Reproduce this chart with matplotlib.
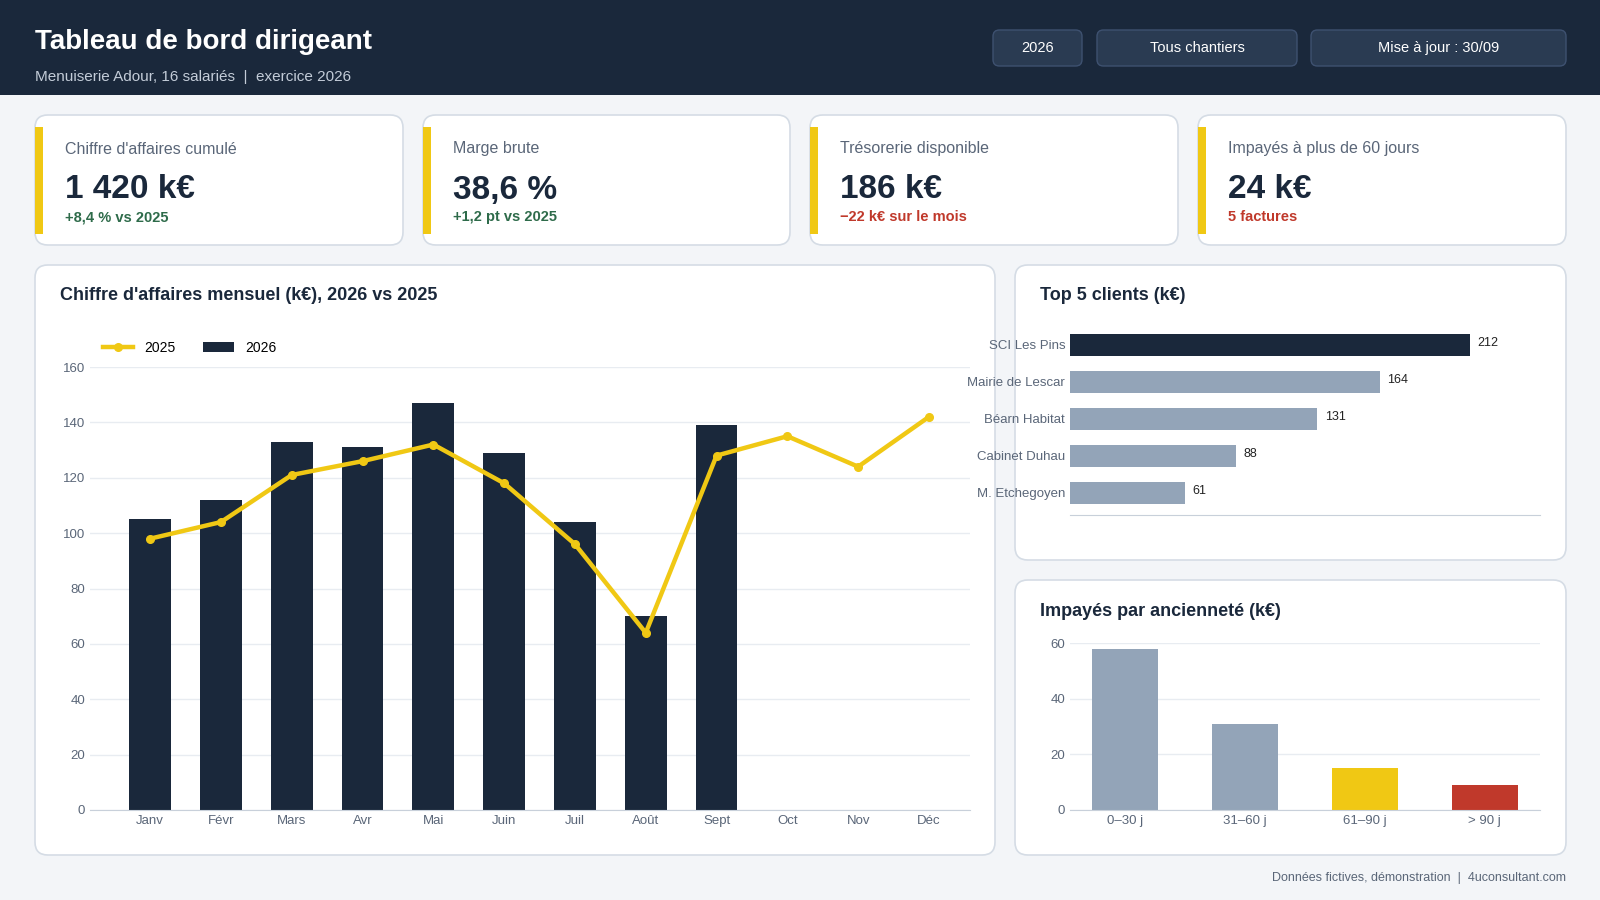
import matplotlib
matplotlib.use("Agg")
import matplotlib.pyplot as plt
from matplotlib.patches import FancyBboxPatch, Rectangle
import numpy as np

plt.rcParams['font.family'] = ['Liberation Sans', 'DejaVu Sans']

months = ["Janv", "Févr", "Mars", "Avr", "Mai", "Juin", "Juil", "Août", "Sept", "Oct", "Nov", "Déc"]
ca_2026 = [105, 112, 133, 131, 147, 129, 104, 70, 139]
ca_2025 = [98, 104, 121, 126, 132, 118, 96, 64, 128, 135, 124, 142]
clients = ["SCI Les Pins", "Mairie de Lescar", "Béarn Habitat", "Cabinet Duhau", "M. Etchegoyen"]
client_vals = [212, 164, 131, 88, 61]
aging_labels = ["0–30 j", "31–60 j", "61–90 j", "> 90 j"]
aging_vals = [58, 31, 15, 9]
kpi_titles = ["Chiffre d'affaires cumulé", "Marge brute", "Trésorerie disponible", "Impayés à plus de 60 jours"]
kpi_values = ["1 420 k€", "38,6 %", "186 k€", "24 k€"]
kpi_notes = ["+8,4 % vs 2025", "+1,2 pt vs 2025", "−22 k€ sur le mois", "5 factures"]
kpi_note_colors = ["#2e6b4a", "#2e6b4a", "#c0392b", "#c0392b"]

NAVY = "#1a283b"; YEL = "#f0c814"; GREY = "#93a4b8"; RED = "#c0392b"
W, H = 1600, 900
fig = plt.figure(figsize=(16, 9), dpi=100)
fig.patch.set_facecolor("#f3f5f8")

def fx(x): return x / W
def fy(y): return 1 - y / H

def rect_px(x0, y0, x1, y1, **kw):
    fig.patches.append(Rectangle((fx(x0), fy(y1)), fx(x1 - x0), (y1 - y0) / H, transform=fig.transFigure, **kw))

def card(x0, y0, x1, y1):
    fig.patches.append(FancyBboxPatch((fx(x0), fy(y1)), fx(x1 - x0), (y1 - y0) / H,
        boxstyle="round,pad=0,rounding_size=0.008", transform=fig.transFigure,
        facecolor="white", edgecolor="#d5dce5", linewidth=1.2, mutation_aspect=16/9))

def ax_px(x0, y0, x1, y1):
    a = fig.add_axes([fx(x0), fy(y1), fx(x1 - x0), (y1 - y0) / H])
    a.set_zorder(5)
    return a

# header
rect_px(0, 0, W, 95, facecolor=NAVY, edgecolor="none")
fig.text(fx(35), fy(42), "Tableau de bord dirigeant", color="white", fontsize=20, fontweight="bold", va="center")
fig.text(fx(35), fy(77), "Menuiserie Adour, 16 salariés  |  exercice 2026", color="#c3ccd8", fontsize=11, va="center")
for (x0, x1, t) in [(993, 1082, "2026"), (1097, 1297, "Tous chantiers"), (1311, 1566, "Mise à jour : 30/09")]:
    fig.patches.append(FancyBboxPatch((fx(x0), fy(66)), fx(x1 - x0), 36 / H,
        boxstyle="round,pad=0,rounding_size=0.004", transform=fig.transFigure,
        facecolor="#2a3b52", edgecolor="#3e5170", linewidth=1, mutation_aspect=16/9))
    fig.text(fx((x0 + x1) / 2), fy(48), t, color="white", fontsize=10.5, ha="center", va="center")

# KPI cards
kx = [(35, 403), (423, 790), (810, 1178), (1198, 1566)]
for i, (x0, x1) in enumerate(kx):
    card(x0, 115, x1, 245)
    rect_px(x0, 127, x0 + 8, 234, facecolor=YEL, edgecolor="none")
    fig.text(fx(x0 + 30), fy(149), kpi_titles[i], color="#5a6678", fontsize=11.5, va="center")
    fig.text(fx(x0 + 30), fy(190), kpi_values[i], color=NAVY, fontsize=24, fontweight="bold", va="center")
    fig.text(fx(x0 + 30), fy(217), kpi_notes[i], color=kpi_note_colors[i], fontsize=10.5, fontweight="bold", va="center")

# panels
card(35, 265, 995, 855)
card(1015, 265, 1566, 560)
card(1015, 580, 1566, 855)
fig.text(fx(60), fy(296), "Chiffre d'affaires mensuel (k€), 2026 vs 2025", color=NAVY, fontsize=13, fontweight="bold", va="center")
fig.text(fx(1040), fy(296), "Top 5 clients (k€)", color=NAVY, fontsize=13, fontweight="bold", va="center")
fig.text(fx(1040), fy(611), "Impayés par ancienneté (k€)", color=NAVY, fontsize=13, fontweight="bold", va="center")
fig.text(fx(1566), fy(878), "Données fictives, démonstration  |  4uconsultant.com", color="#5a6678", fontsize=9, ha="right", va="center")

def style(ax):
    ax.set_facecolor("none")
    for s in ["top", "right", "left"]:
        ax.spines[s].set_visible(False)
    ax.spines["bottom"].set_color("#c8d0da")
    ax.tick_params(length=0, colors="#5a6678", labelsize=9.5)

# main chart
ax = ax_px(90, 367, 970, 810)
style(ax)
x = np.arange(len(months))
ax.bar(x[:len(ca_2026)], ca_2026, width=0.59, color=NAVY, label="2026", zorder=2)
ax.plot(x, ca_2025, color=YEL, lw=3.2, marker="o", ms=5.5, label="2025", zorder=3)
ax.set_xlim(-0.85, 11.58); ax.set_ylim(0, 160)
ax.set_yticks(range(0, 161, 20))
ax.set_xticks(x); ax.set_xticklabels(months)
ax.grid(axis="y", color="#e8ecf1", lw=1, zorder=0)
h, l = ax.get_legend_handles_labels()
ax.legend(h, l, loc="lower left", bbox_to_anchor=(0.0, 1.0), ncol=2, frameon=False, fontsize=10,
          handlelength=2.2, columnspacing=2, borderaxespad=0.5)

# top clients
ax2 = ax_px(1070, 330, 1540, 515)
style(ax2)
y = np.arange(len(clients))
ax2.barh(y, client_vals, height=0.6, color=[NAVY] + [GREY] * 4)
ax2.set_ylim(4.6, -0.4)
ax2.set_xlim(0, 249)
ax2.set_yticks(y); ax2.set_yticklabels(clients, fontsize=9.5)
ax2.set_xticks([])
for yi, v in zip(y, client_vals):
    ax2.text(v + 4, yi - 0.05, str(v), fontsize=9, va="center", color="#222")

# aging
ax3 = ax_px(1070, 643, 1540, 810)
style(ax3)
xa = np.arange(len(aging_labels))
ax3.bar(xa, aging_vals, width=0.55, color=[GREY, GREY, YEL, RED], zorder=2)
ax3.set_ylim(0, 60); ax3.set_yticks([0, 20, 40, 60])
ax3.set_xlim(-0.46, 3.46)
ax3.set_xticks(xa); ax3.set_xticklabels(aging_labels)
ax3.grid(axis="y", color="#e8ecf1", lw=1, zorder=0)

fig.savefig("out.png", dpi=100, facecolor=fig.get_facecolor())
